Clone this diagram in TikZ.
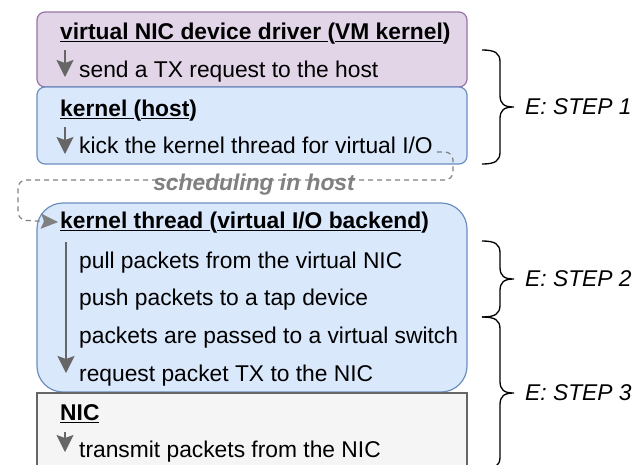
\documentclass[tikz,border=0pt]{standalone}
\usepackage{fontspec}
\setmainfont{Liberation Sans}
\usetikzlibrary{arrows.meta}
\definecolor{vmfill}{HTML}{E1D5E7}
\definecolor{vmline}{HTML}{9673A6}
\definecolor{hostfill}{HTML}{DAE8FC}
\definecolor{hostline}{HTML}{6C8EBF}
\definecolor{nicfill}{HTML}{F5F5F5}
\definecolor{nicline}{HTML}{666666}
\definecolor{flowgray}{HTML}{666666}
\definecolor{schedgray}{HTML}{808080}
\newcommand{\ulin}[1]{\setbox0=\hbox{#1}\rlap{\rule[-3.4pt]{\wd0}{1.6pt}}\box0}

\begin{document}
\begin{tikzpicture}[x=1pt,y=-1pt,
	box/.style={minimum width=430pt,inner sep=0pt,line width=1.2pt},
	txt/.style={anchor=base west,inner sep=0pt,font=\fontsize{22.8}{27}\selectfont},
	boxtitle/.style={txt,font=\fontsize{22.8}{27}\selectfont\bfseries},
	flow/.style={draw=flowgray,line width=1.5pt,-{Stealth[length=17pt,width=17pt,inset=3pt]}},
	steplabel/.style={anchor=west,inner sep=0pt,font=\fontsize{22.8}{27}\selectfont\itshape},
	bracepen/.style={line width=1.3pt}]
\useasboundingbox (0,0) rectangle (643,464);
% boxes
\node[box,fill=vmfill,draw=vmline,rounded corners=8pt,minimum height=75pt] (vmbox) at (252,49.5) {};
\node[box,fill=hostfill,draw=hostline,rounded corners=8pt,minimum height=77pt] (hostbox) at (252,125.5) {};
\node[box,fill=hostfill,draw=hostline,rounded corners=26pt,minimum height=189pt] (kthbox) at (252,297.5) {};
\node[box,fill=nicfill,draw=nicline,minimum height=87pt] (nicbox) at (252,436.5) {};
% texts
\node[boxtitle] (vmtitle) at (60,39) {\ulin{virtual NIC device driver }(\ulin{VM kernel})};
\node[txt] (vmsend) at (79,77) {send a TX request to the host};
\node[boxtitle] (hosttitle) at (60,116) {\ulin{kernel }(\ulin{host})};
\node[txt] (hostkick) at (79,153) {kick the kernel thread for virtual I/O};
\node[boxtitle] (kthtitle) at (60,228) {\ulin{kernel thread }(\ulin{virtual I/O backend})};
\node[txt] (pull) at (79,268) {pull packets from the virtual NIC};
\node[txt] (push) at (79,305) {push packets to a tap device};
\node[txt] (vswitch) at (79,343) {packets are passed to a virtual switch};
\node[txt] (reqtx) at (79,381) {request packet TX to the NIC};
\node[boxtitle] (nictitle) at (60,420) {\ulin{NIC}};
\node[txt] (nicsend) at (79,457) {transmit packets from the NIC};
% arrows
\coordinate (vmA) at (65,50);
\coordinate (vmB) at (65,77);
\coordinate (hostA) at (65,127);
\coordinate (hostB) at (65,154);
\coordinate (kthA) at (66,242);
\coordinate (kthB) at (66,373);
\coordinate (nicA) at (65,432);
\coordinate (nicB) at (65,452);
\draw[flow] (vmA)--(vmB);
\draw[flow] (hostA)--(hostB);
\draw[flow] (kthA)--(kthB);
\draw[flow] (nicA)--(nicB);
% scheduling
\draw[draw=schedgray,line width=1.2pt,dash pattern=on 5pt off 4pt,rounded corners=8pt,
	-{Stealth[length=17pt,width=15pt,inset=3pt]}]
	(hostkick.base east) ++(4,-1) -- (453,152) -- (453,180) -- (18,180) -- (18,220)
	-- ([xshift=-2pt]kthtitle.west);
\node[txt,anchor=base,text=schedgray,font=\fontsize{22.8}{27}\selectfont\bfseries\itshape]
	(sched) at (254,190) {scheduling in host};
% steps
\draw[bracepen] (482,50) .. controls (495,50) and (500,53) .. (500,62)
	-- (500,95) .. controls (500,104) and (504,107) .. (514,107)
	.. controls (504,107) and (500,110) .. (500,119)
	-- (500,152) .. controls (500,161) and (495,164) .. (482,164);
\draw[bracepen] (482,241) .. controls (495,241) and (500,244) .. (500,253)
	-- (500,267) .. controls (500,276) and (504,279) .. (514,279)
	.. controls (504,279) and (500,282) .. (500,291)
	-- (500,305) .. controls (500,314) and (495,317) .. (482,317);
\draw[bracepen] (482,317) .. controls (495,317) and (500,320) .. (500,329)
	-- (500,381) .. controls (500,390) and (504,393) .. (514,393)
	.. controls (504,393) and (500,396) .. (500,405)
	-- (500,457) .. controls (500,466) and (495,469) .. (482,469);
\node[steplabel] (step1) at (525,107) {E: STEP 1};
\node[steplabel] (step2) at (525,279) {E: STEP 2};
\node[steplabel] (step3) at (525,393) {E: STEP 3};
\end{tikzpicture}
\end{document}
